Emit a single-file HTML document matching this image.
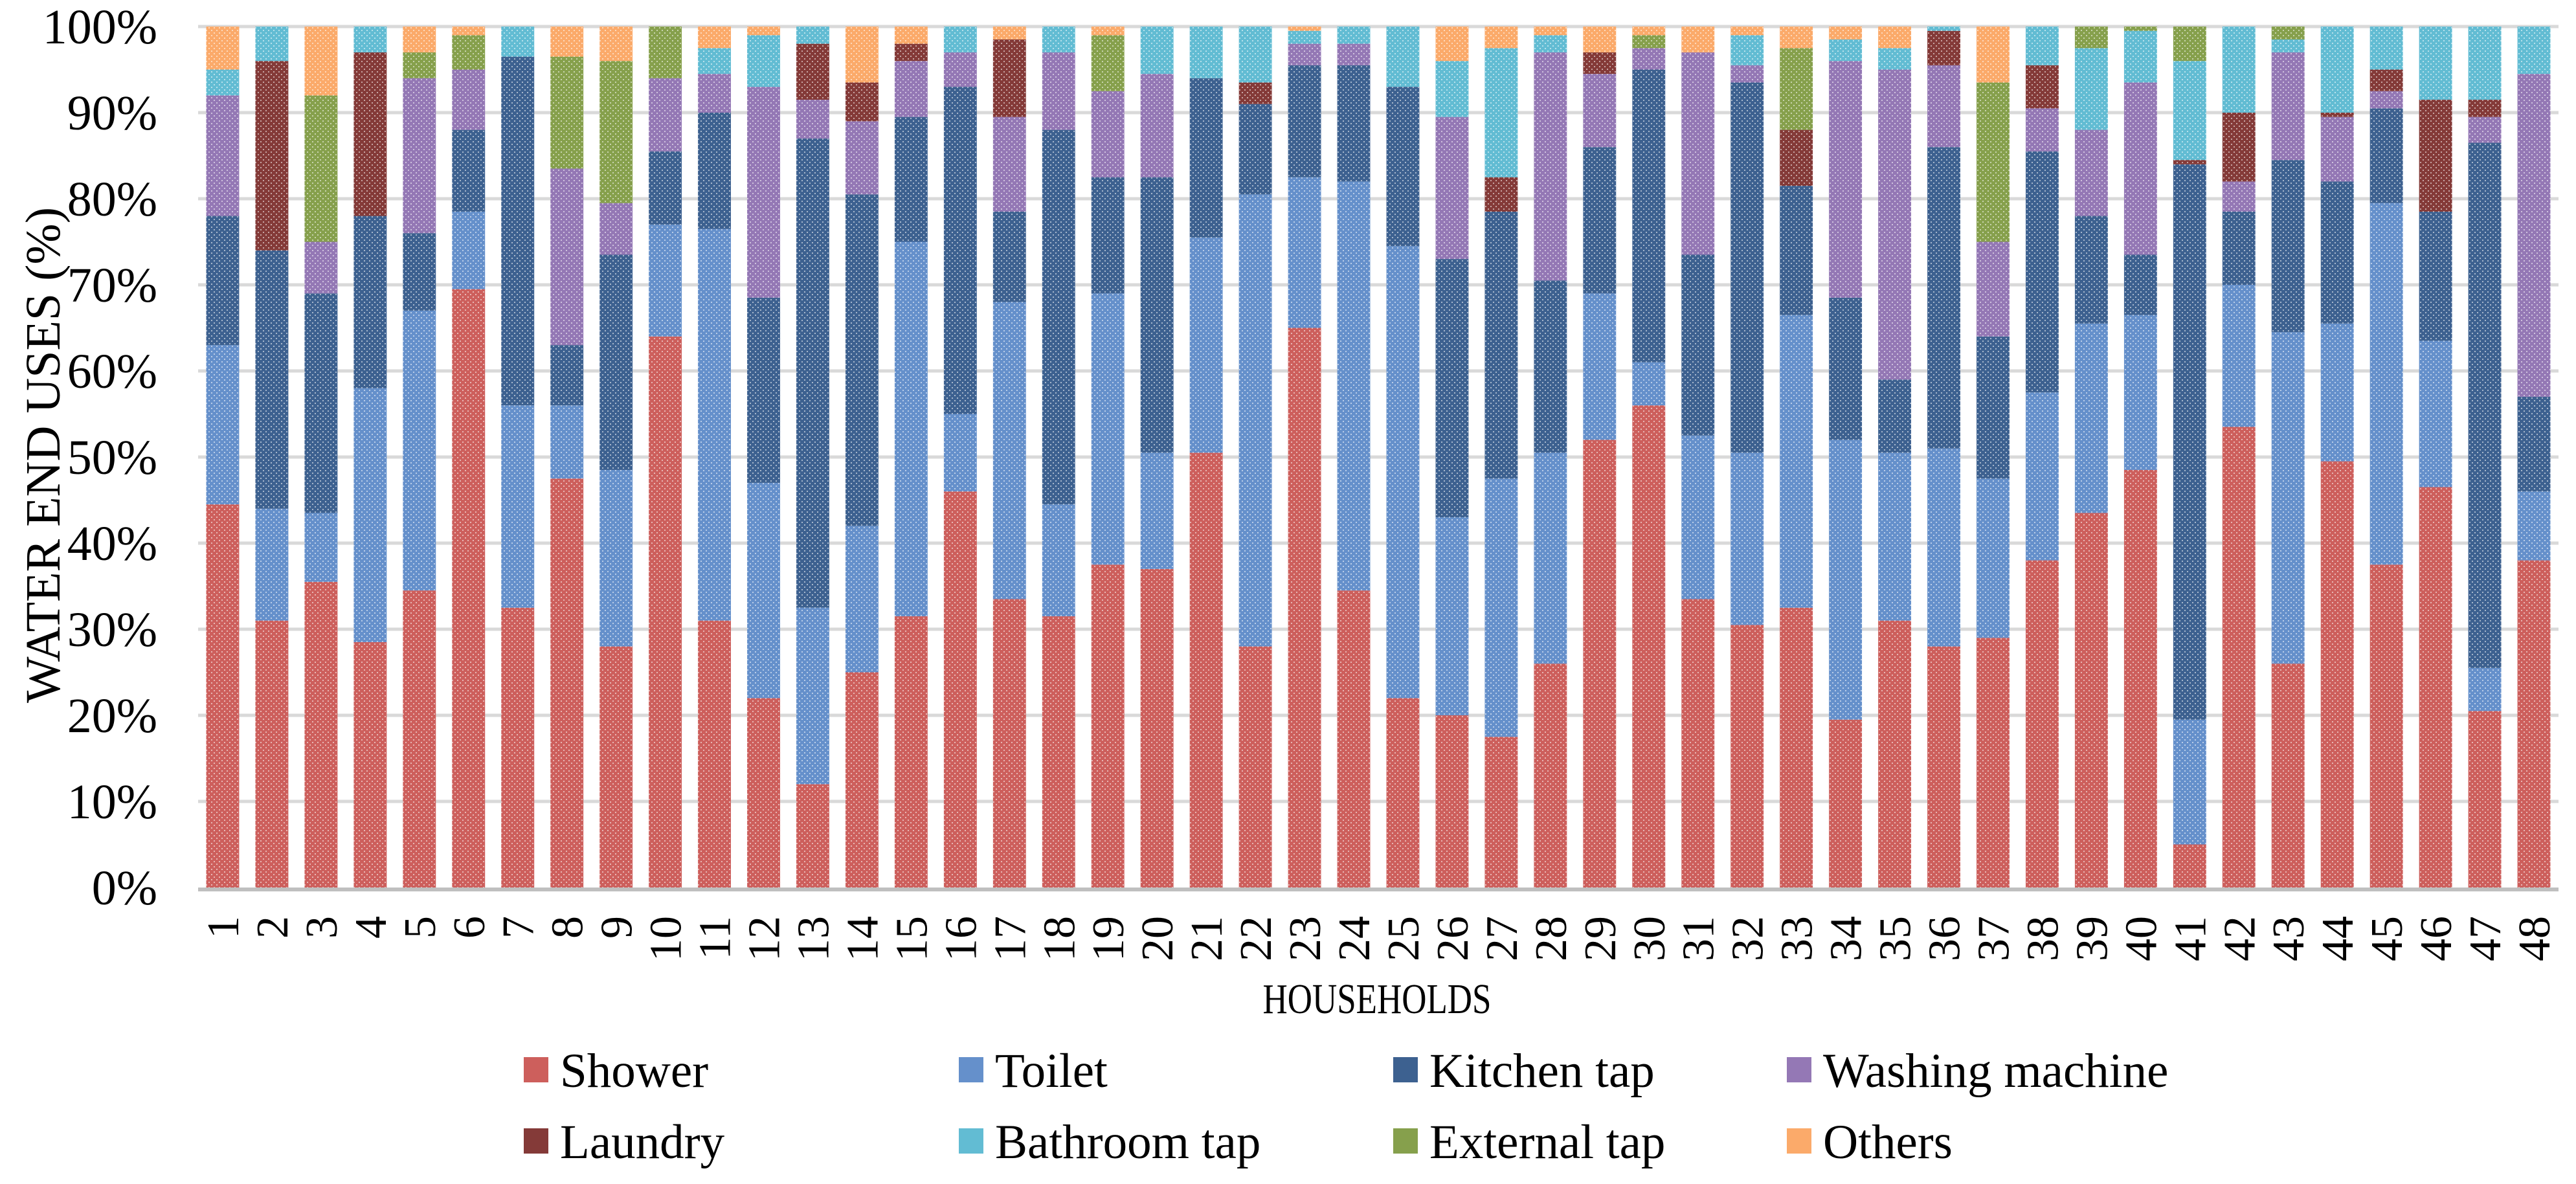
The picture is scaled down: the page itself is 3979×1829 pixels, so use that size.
<!DOCTYPE html>
<html><head><meta charset="utf-8">
<style>
html,body{margin:0;padding:0;background:#fff;}
svg, svg text{font-family:"Liberation Serif","Times New Roman","DejaVu Serif",serif;}
</style></head>
<body>
<svg id="chart" width="3979" height="1824" viewBox="0 0 3979 1824" xmlns="http://www.w3.org/2000/svg" font-family="Liberation Serif, serif">
<defs>
<pattern id="dots" width="8" height="8" patternUnits="userSpaceOnUse">
<rect x="2" y="2" width="2" height="2" fill="#fff" fill-opacity="0.55"/>
<rect x="6" y="6" width="2" height="2" fill="#fff" fill-opacity="0.55"/>
</pattern>
</defs>
<g id="grid"></g>
<g id="bars"></g>
<g id="yticks"></g>
<g id="xticks"></g>
<text font-family="Liberation Serif, serif" transform="translate(92,703) rotate(-90)" text-anchor="middle" font-size="76" textLength="766" lengthAdjust="spacingAndGlyphs">WATER END USES (%)</text>
<text font-family="Liberation Serif, serif" x="2127" y="1565" text-anchor="middle" font-size="66" textLength="353" lengthAdjust="spacingAndGlyphs">HOUSEHOLDS</text>
<g id="legend"></g>
</svg>
<script>
const households = Array.from({length:48},(_,i)=>String(i+1));
const seriesNames = ["Shower","Toilet","Kitchen tap","Washing machine","Laundry","Bathroom tap","External tap","Others"];
const shower = [44.5,31,35.5,28.5,34.5,69.5,32.5,47.5,28,64,31,22,12,25,31.5,46,33.5,31.5,37.5,37,50.5,28,65,34.5,22,20,17.5,26,52,56,33.5,30.5,32.5,19.5,31,28,29,38,43.5,48.5,5,53.5,26,49.5,37.5,46.5,20.5,38];
const toilet = [18.5,13,8,29.5,32.5,9,23.5,8.5,20.5,13,45.5,25,20.5,17,43.5,9,34.5,13,31.5,13.5,25,52.5,17.5,47.5,52.5,23,30,24.5,17,5,19,20,34,32.5,19.5,23,18.5,19.5,22,18,14.5,16.5,38.5,16,42,17,5,8];
const kitchenTap = [15,30,25.5,20,9,9.5,40.5,7,25,8.5,13.5,21.5,54.5,38.5,14.5,38,10.5,43.5,13.5,32,18.5,10.5,13,13.5,18.5,30,31,20,17,34,21,43,15,16.5,8.5,35,16.5,28,12.5,7,64.5,8.5,20,16.5,11,15,61,11];
const washingMachine = [14,0,6,0,18,7,0,20.5,6,8.5,4.5,24.5,4.5,8.5,6.5,4,11,9,10,12,0,0,2.5,2.5,0,16.5,0,26.5,8.5,2.5,23.5,2,0,27.5,36,9.5,11,5,10,20,0,3.5,12.5,7.5,2,0,3,37.5];
const laundry = [0,22,0,19,0,0,0,0,0,0,0,0,6.5,4.5,2,0,9,0,0,0,0,2.5,0,0,0,0,4,0,2.5,0,0,0,6.5,0,0,4,0,5,0,0,0.5,8,0,0.5,2.5,13,2,0];
const bathroomTap = [3,4,0,3,0,0,3.5,0,0,0,3,6,2,0,0,3,0,3,0,5.5,6,6.5,1.5,2,7,6.5,15,2,0,0,0,3.5,0,2.5,2.5,0.5,0,4.5,9.5,6,11.5,10,1.5,10,5,8.5,8.5,5.5];
const externalTap = [0,0,17,0,3,4,0,13,16.5,6,0,0,0,0,0,0,0,0,6.5,0,0,0,0,0,0,0,0,0,0,1.5,0,0,9.5,0,0,0,18.5,0,2.5,0.5,4,0,1.5,0,0,0,0,0];
const others = [5,0,8,0,3,1,0,3.5,4,0,2.5,1,0,6.5,2,0,1.5,0,1,0,0,0,0.5,0,0,4,2.5,1,3,1,3,1,2.5,1.5,2.5,0,6.5,0,0,0,0,0,0,0,0,0,0,0];
const yTickLabels = ["0%","10%","20%","30%","40%","50%","60%","70%","80%","90%","100%"];
const series = [shower,toilet,kitchenTap,washingMachine,laundry,bathroomTap,externalTap,others];
const colors = ["#cd5f5c","#6590cb","#3d6190","#9478b5","#843a38","#62bcd3","#86a04c","#fbaa6a"];
const seriesKeys = ["shower","toilet","kitchen-tap","washing-machine","laundry","bathroom-tap","external-tap","others"];

const NS="http://www.w3.org/2000/svg";
const FONT="Liberation Serif, serif";
const plotL=306, plotR=3952, plotT=41, plotB=1371;
const band=(plotR-plotL)/households.length, barW=band*0.67;
const x=i=>plotL+band*(i+0.5);
const y=v=>plotB-(plotB-plotT)*v/100;
function mk(tag,attrs,parent){const e=document.createElementNS(NS,tag);for(const k in attrs)e.setAttribute(k,attrs[k]);parent.appendChild(e);return e;}

const grid=document.getElementById('grid');
yTickLabels.forEach((lab,i)=>{
  const v=i*10;
  if(i>0){const l=mk('line',{x1:plotL,x2:plotR,y1:y(v),y2:y(v),stroke:'#d9d9d9','stroke-width':5},grid);
  
  }
  const t=mk('text',{x:243,y:y(v)+26,'text-anchor':'end','font-size':76,'font-family':FONT},document.getElementById('yticks'));
  t.textContent=lab;
  
  
});

const bars=document.getElementById('bars');
households.forEach((h,i)=>{
  let cum=0;
  series.forEach((s,k)=>{
    const v=s[i]; if(!v) {return;}
    const r=mk('rect',{x:x(i)-barW/2,y:y(cum+v),width:barW,height:y(cum)-y(cum+v),fill:colors[k]},bars);
    
    
    const p=mk('rect',{x:x(i)-barW/2,y:y(cum+v),width:barW,height:y(cum)-y(cum+v),fill:'url(#dots)'},bars);
    
    
    cum+=v;
  });
  const t=mk('text',{transform:`translate(${x(i)+24},1415) rotate(-90)`,'text-anchor':'end','font-size':70,'font-family':FONT},document.getElementById('xticks'));
  t.textContent=h;
  
  
});
const ax=mk('line',{x1:plotL,x2:plotR,y1:plotB+3,y2:plotB+3,stroke:'#bfbfbf','stroke-width':6},grid.parentNode);



const legend=document.getElementById('legend');
const colX=[809,1481,2152,2760], rowY=[1633,1743];
seriesNames.forEach((n,k)=>{
  const cx=colX[k%4], ry=rowY[Math.floor(k/4)];
  const g=mk('g',{},legend);
  
  
  const m=mk('rect',{x:cx,y:ry,width:38,height:39,fill:colors[k]},g);
  
  
  const t=mk('text',{x:cx+56,y:ry+46,'font-size':75,'font-family':FONT},g);
  t.textContent=n;
  
  
});
</script>
</body></html>
